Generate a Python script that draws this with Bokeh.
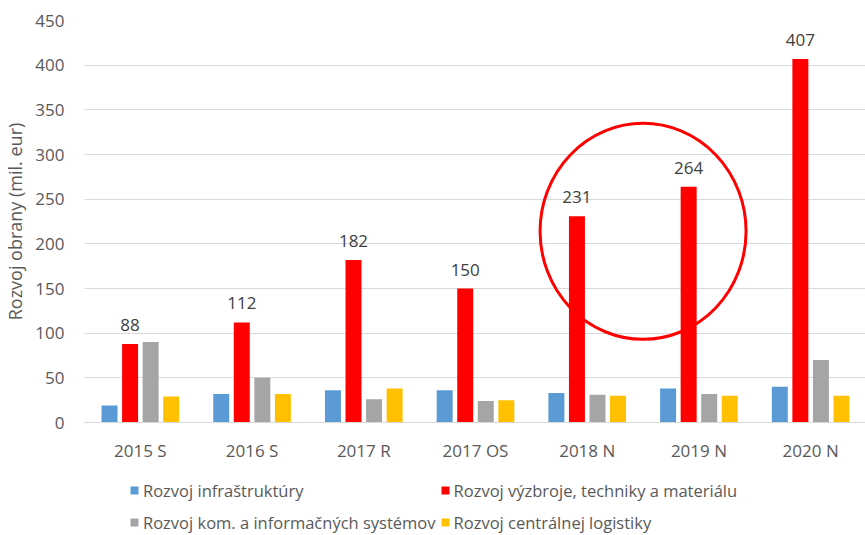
from bokeh.plotting import figure
from bokeh.layouts import column
from bokeh.models import ColumnDataSource, Legend, LegendItem, FixedTicker
from bokeh.transform import dodge
from bokeh.core.properties import value
from bokeh.embed import file_html
from bokeh.resources import INLINE

categories = ["2015 S", "2016 S", "2017 R", "2017 OS", "2018 N", "2019 N", "2020 N"]
infra = [19, 32, 36, 36, 33, 38, 40]
vyzbroj = [88, 112, 182, 150, 231, 264, 407]
kom = [90, 50, 26, 24, 31, 32, 70]
logistika = [29, 32, 38, 25, 30, 30, 30]
series_names = ["Rozvoj infraštruktúry", "Rozvoj výzbroje, techniky a materiálu",
                "Rozvoj kom. a informačných systémov", "Rozvoj centrálnej logistiky"]
colors = ["#5b9bd5", "#ff0000", "#a5a5a5", "#ffc000"]
y_ticks = [0, 50, 100, 150, 200, 250, 300, 350, 400, 450]
# highlight circle annotation (around 2018 N / 2019 N)
circle_cat = "2018 N"
circle_y = 214

FONT = "Open Sans"
src = ColumnDataSource(dict(cat=categories, infra=infra, vyzbroj=vyzbroj, kom=kom, log=logistika,
                            lbl=[str(v) for v in vyzbroj]))

p = figure(x_range=categories, y_range=(0, 450), frame_width=782, frame_height=402,
           output_backend="svg", toolbar_location=None,
           min_border_left=78, min_border_right=0, min_border_top=20, min_border_bottom=0)
p.outline_line_color = None

offsets = [-0.276, -0.092, 0.092, 0.276]
keys = ["infra", "vyzbroj", "kom", "log"]
for k, off, c in zip(keys, offsets, colors):
    p.vbar(x=dodge("cat", off, range=p.x_range), top=k, width=0.143, source=src,
           fill_color=c, line_color=None)

p.text(x=dodge("cat", -0.092, range=p.x_range), y="vyzbroj", text="lbl", source=src,
       text_align="center", text_baseline="bottom", y_offset=-13,
       text_font=value(FONT), text_font_size="17px", text_color="#404040")

esrc = ColumnDataSource(dict(cat=[circle_cat], y=[circle_y]))
p.ellipse(x=dodge("cat", 0.5, range=p.x_range), y="y", width=206, height=216,
          width_units="screen", height_units="screen", source=esrc,
          fill_alpha=0, line_color="#ff0000", line_width=3)

p.xgrid.grid_line_color = None
p.ygrid.grid_line_color = "#d9d9d9"
p.ygrid.ticker = FixedTicker(ticks=y_ticks)
p.yaxis.ticker = FixedTicker(ticks=y_ticks)
p.yaxis.axis_line_color = None
p.yaxis.major_tick_line_color = None
p.yaxis.minor_tick_line_color = None
p.yaxis.major_label_standoff = 14
p.yaxis.axis_label = "Rozvoj obrany (mil. eur)"
p.yaxis.axis_label_text_font_style = "normal"
p.yaxis.axis_label_text_font = FONT
p.yaxis.axis_label_text_font_size = "18px"
p.yaxis.axis_label_text_color = "#595959"
p.yaxis.axis_label_standoff = 5
p.xaxis.axis_line_color = "#d9d9d9"
p.xaxis.major_tick_line_color = None
p.xaxis.major_label_standoff = 10
for ax in (p.xaxis, p.yaxis):
    ax.major_label_text_font = FONT
    ax.major_label_text_font_size = "17px"
    ax.major_label_text_color = "#595959"

# legend strip below the chart (bars kept out of its visible y range)
lg = figure(width=860, height=72, x_range=categories, y_range=(1000, 1001),
            x_axis_type=None, y_axis_type=None,
            output_backend="svg", toolbar_location=None,
            min_border_left=0, min_border_right=0, min_border_top=0, min_border_bottom=0)
lg.outline_line_color = None
lg.grid.grid_line_color = None
items = []
for k, n, c in zip(keys, series_names, colors):
    r = lg.vbar(x="cat", top=k, width=0.1, source=src, fill_color=c, line_color=None)
    items.append(LegendItem(label=n, renderers=[r]))
legend = Legend(items=items, orientation="horizontal", ncols=2, location=(45, 0),
                label_text_font=FONT, label_text_font_size="16.5px", label_text_color="#595959",
                glyph_width=10, glyph_height=10, label_standoff=4, spacing=4,
                label_height=28, padding=0, margin=0,
                border_line_color=None, background_fill_alpha=0)
lg.add_layout(legend, "center")

layout = column(p, lg, spacing=0)
open("out.html", "w").write(file_html(layout, INLINE))
